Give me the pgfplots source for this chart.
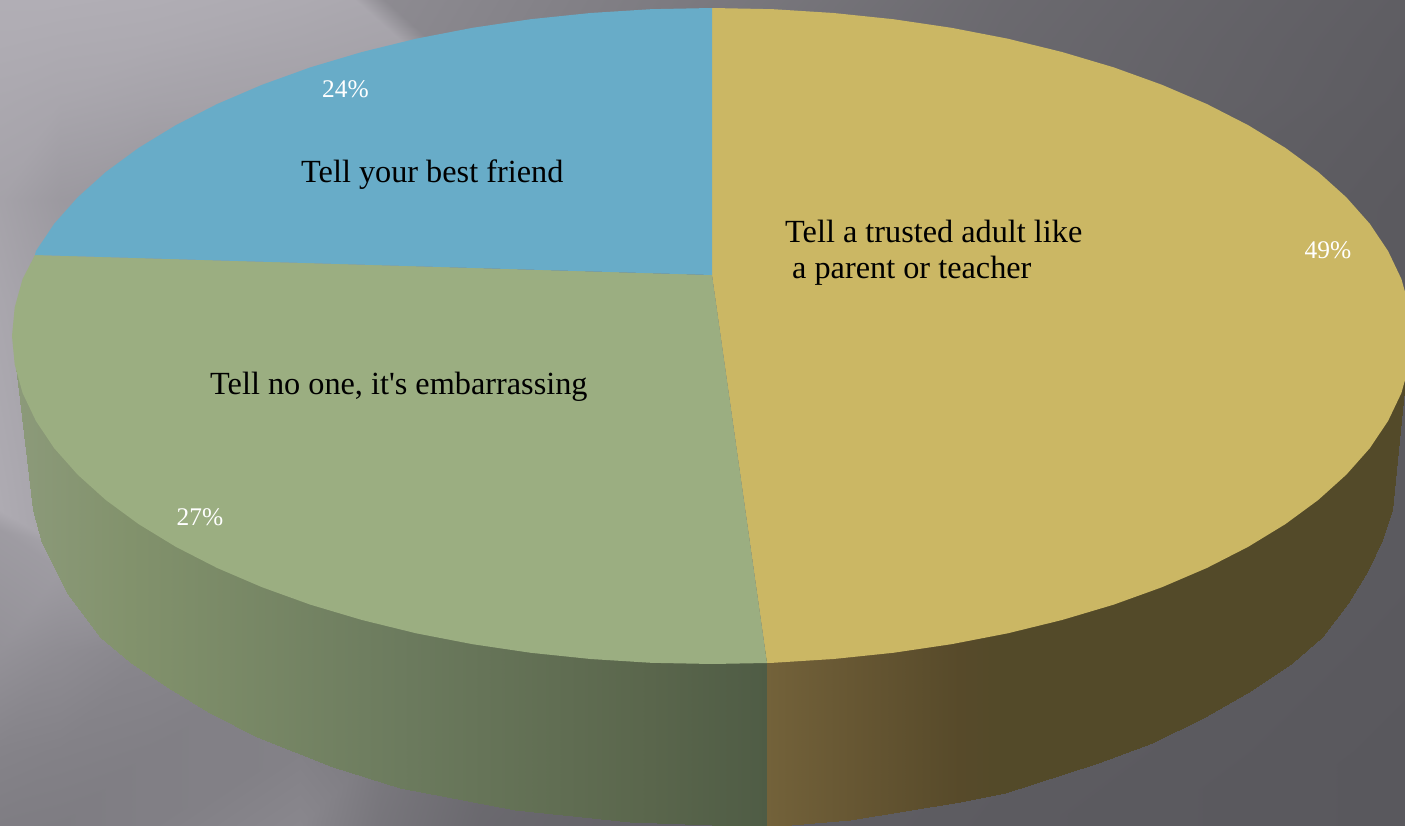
\documentclass[border=0pt]{standalone}
\usepackage{pgfplots}
\pgfplotsset{compat=1.18}
\usepackage{fontspec}
\setmainfont{Liberation Serif}
\newfontfamily\labfont{Liberation Serif}
\definecolor{pieyellow}{HTML}{CBB764}
\definecolor{piegreen}{HTML}{9BAE81}
\definecolor{pieblue}{HTML}{68ACC8}
\pgfplotsset{
  colormap={bgmap}{rgb255(88pt)=(89,88,93) rgb255(176pt)=(177,174,181)},
  colormap={greenwall}{rgb255(16pt)=(140,154,122) rgb255(130pt)=(130,146,108) rgb255(400pt)=(108,123,94) rgb255(650pt)=(90,102,76) rgb255(767pt)=(79,92,69)},
  colormap={yellowwall}{rgb255(767pt)=(115,98,58) rgb255(850pt)=(103,87,51) rgb255(960pt)=(87,74,42) rgb255(1005pt)=(83,74,41) rgb255(1405pt)=(83,74,41)},
}
\newcommand{\lab}{\labfont\fontsize{32.4}{38}\selectfont}
\newcommand{\pct}{\labfont\fontsize{25.5}{30}\selectfont}
\begin{document}
\begin{tikzpicture}
\begin{axis}[
  scale only axis, width=1405bp, height=826bp,
  xmin=0, xmax=1405, ymin=0, ymax=826, y dir=reverse,
  hide axis, clip=true, point meta rel=per plot,
]
% background
\addplot[surf, shader=interp, colormap name=bgmap, mesh/rows=10, mesh/cols=9, point meta=explicit]
 table[x=x, y=y, meta=m, row sep=\\] {
 x y m\\
 0 0 176\\ 60 0 176\\ 150 0 175\\ 300 0 172\\ 355 0 170\\ 385 0 140\\ 700 0 122\\ 1000 0 106\\ 1405 0 94\\
 0 40 174\\ 60 40 173\\ 150 40 172\\ 300 40 168\\ 400 40 165\\ 430 40 136\\ 700 40 120\\ 1000 40 105\\ 1405 40 93\\
 0 100 170\\ 60 100 168\\ 150 100 165\\ 300 100 162\\ 500 100 155\\ 530 100 128\\ 700 100 118\\ 1000 100 104\\ 1405 100 92\\
 0 200 164\\ 60 200 155\\ 150 200 150\\ 300 200 150\\ 500 200 145\\ 530 200 125\\ 700 200 115\\ 1000 200 100\\ 1405 200 90\\
 0 300 168\\ 60 300 160\\ 150 300 150\\ 300 300 145\\ 380 300 140\\ 480 300 120\\ 700 300 110\\ 1000 300 98\\ 1405 300 90\\
 0 510 173\\ 60 545 165\\ 150 560 150\\ 300 560 140\\ 380 560 130\\ 480 560 115\\ 700 510 105\\ 1000 510 95\\ 1405 510 90\\
 0 530 157\\ 60 570 157\\ 150 600 148\\ 300 600 138\\ 380 600 128\\ 480 600 112\\ 700 540 105\\ 1000 540 95\\ 1405 540 90\\
 0 650 147\\ 60 650 142\\ 150 650 135\\ 300 650 130\\ 380 650 122\\ 480 650 110\\ 700 650 100\\ 1000 650 93\\ 1405 650 89\\
 0 750 132\\ 60 750 130\\ 150 750 128\\ 300 750 130\\ 380 750 122\\ 480 750 108\\ 700 750 98\\ 1000 750 92\\ 1405 750 88\\
 0 826 126\\ 60 826 125\\ 150 826 128\\ 300 826 136\\ 380 826 118\\ 480 826 105\\ 700 826 96\\ 1000 826 91\\ 1405 826 88\\
 };
% green side wall
\addplot[surf, shader=interp, colormap name=greenwall, mesh/rows=2, mesh/cols=15, point meta=x]
 table[x=x, y=y, row sep=\\] {
 x y\\
 16 367\\ 20 385\\ 33 400\\ 42 410\\ 67 440\\ 100 470\\ 130 490\\ 167 520\\ 210 540\\ 257 560\\ 333 590\\ 400 610\\ 515 640\\ 630 650\\ 767 650\\
 16 367\\ 20 400\\ 33 510\\ 42 543\\ 67 593\\ 100 637\\ 130 662\\ 167 687\\ 210 713\\ 257 737\\ 333 767\\ 400 788\\ 515 810\\ 630 822\\ 767 827\\
 };
% yellow side wall
\addplot[surf, shader=interp, colormap name=yellowwall, mesh/rows=2, mesh/cols=15, point meta=x]
 table[x=x, y=y, row sep=\\] {
 x y\\
 767 650\\ 850 645\\ 960 625\\ 1005 620\\ 1098 590\\ 1152 570\\ 1205 540\\ 1252 520\\ 1292 490\\ 1322 470\\ 1348 440\\ 1368 420\\ 1382 400\\ 1392 370\\ 1405 370\\
 767 827\\ 850 820\\ 960 802\\ 1005 793\\ 1098 763\\ 1152 743\\ 1205 717\\ 1252 690\\ 1292 663\\ 1322 637\\ 1348 603\\ 1368 570\\ 1382 540\\ 1392 510\\ 1405 380\\
 };
% top faces
\addplot[fill=pieyellow, draw=none] coordinates {
 (712,275) (712,8) (773,9.2) (833.5,13) (893.2,19.2) (951.4,27.8) (1007.8,38.7) (1062,52) (1113.5,67.3) (1162,84.8) (1207,104.1) (1248.2,125.2) (1285.4,147.9) (1318.2,172) (1346.4,197.4) (1369.8,223.8) (1388.1,251.1) (1401.4,279) (1409.3,307.4) (1412,336) (1409.3,364.6) (1401.4,393) (1388.1,420.9) (1369.8,448.2) (1346.4,474.6) (1318.2,500) (1285.4,524.1) (1248.2,546.8) (1207,567.9) (1162,587.2) (1113.5,604.7) (1062,620) (1007.8,633.3) (951.4,644.2) (893.2,652.8) (833.5,659) (773,662.8) (767,663)
} -- cycle;
\addplot[fill=piegreen, draw=none] coordinates {
 (712,275) (767,663) (712,664) (651,662.8) (590.5,659) (530.8,652.8) (472.6,644.2) (416.2,633.3) (362,620) (310.5,604.7) (262,587.2) (217,567.9) (175.8,546.8) (138.6,524.1) (105.8,500) (77.6,474.6) (54.2,448.2) (35.9,420.9) (22.6,393) (14.7,364.6) (12,336) (14.7,307.4) (22.6,279) (35,255)
} -- cycle;
\addplot[fill=pieblue, draw=none] coordinates {
 (712,275) (35,255) (35.9,251.1) (54.2,223.8) (77.6,197.4) (105.8,172) (138.6,147.9) (175.8,125.2) (217,104.1) (262,84.8) (310.5,67.3) (362,52) (416.2,38.7) (472.6,27.8) (530.8,19.2) (590.5,13) (651,9.2) (712,8)
} -- cycle;
% labels
\node[anchor=base west, inner sep=0pt, text=black] at (axis cs:301,182.5) {\lab Tell your best friend};
\node[anchor=base west, inner sep=0pt, text=black] at (axis cs:785,243) {\lab Tell a trusted adult like};
\node[anchor=base west, inner sep=0pt, text=black] at (axis cs:792,278) {\lab a parent or teacher};
\node[anchor=base west, inner sep=0pt, text=black] at (axis cs:210,394.5) {\lab Tell no one, it's embarrassing};
\node[anchor=base, inner sep=0pt, text=white] at (axis cs:345.5,98) {\pct 24\%};
\node[anchor=base, inner sep=0pt, text=white] at (axis cs:1328,259) {\pct 49\%};
\node[anchor=base, inner sep=0pt, text=white] at (axis cs:200,525) {\pct 27\%};
\end{axis}
\end{tikzpicture}
\end{document}
